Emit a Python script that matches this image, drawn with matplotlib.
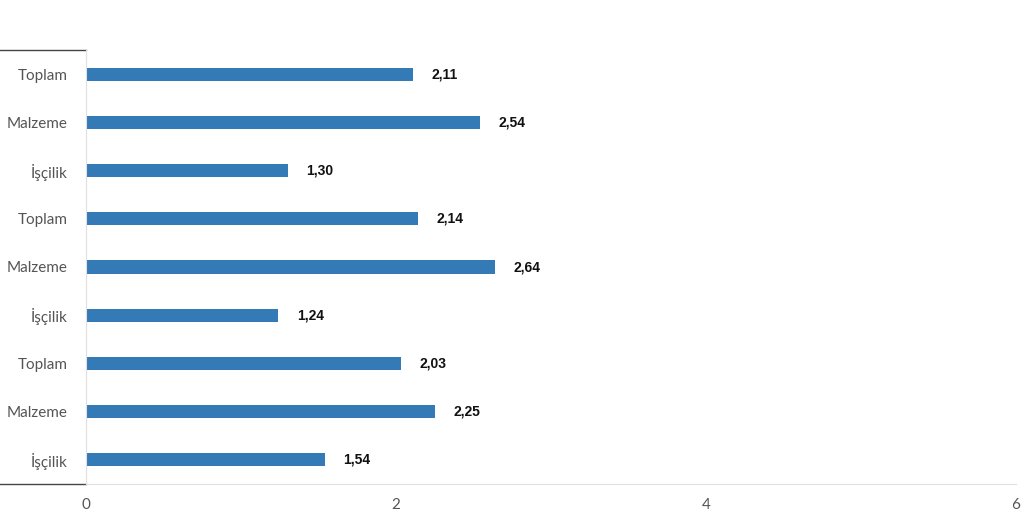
import matplotlib.pyplot as plt

# kategoriler (yukaridan asagiya)
labels = ["Toplam", "Malzeme", "İşçilik", "Toplam", "Malzeme", "İşçilik",
          "Toplam", "Malzeme", "İşçilik"]
values = [2.11, 2.54, 1.30, 2.14, 2.64, 1.24, 2.03, 2.25, 1.54]
xticks = [0, 2, 4, 6]

fig = plt.figure(figsize=(10.24, 5.2), dpi=100)
ax = fig.add_axes([86 / 1024, 1 - 484 / 520, 930 / 1024, 434 / 520])

ypos = list(range(len(values)))[::-1]
ax.barh(ypos, values, height=0.27, color="#337ab7")

for y, v in zip(ypos, values):
    ax.annotate(f"{v:.2f}".replace(".", ","), (v, y), xytext=(13.5, 0),
                textcoords="offset points", ha="left", va="center",
                fontsize=10, fontweight="bold", family="Liberation Sans",
                color="#111111")

ax.set_xlim(0, 6)
ax.set_ylim(-0.5, len(values) - 0.5)
ax.set_xticks(xticks)
ax.set_xticklabels([str(t) for t in xticks])
ax.set_yticks(ypos)
ax.set_yticklabels(labels)
ax.tick_params(axis="both", length=0, colors="#555555", labelsize=11)
ax.tick_params(axis="x", pad=10)
ax.tick_params(axis="y", pad=13)
for lab in ax.get_xticklabels() + ax.get_yticklabels():
    lab.set_family("Lato")

for s in ["top", "right"]:
    ax.spines[s].set_visible(False)
ax.spines["left"].set_color("#e0e0e0")
ax.spines["bottom"].set_color("#e0e0e0")

# grup ayirici cizgiler (sol tarafta)
x0 = -86 / 930
for yy in [0, 1]:
    ax.plot([x0, 0], [yy, yy], transform=ax.transAxes, color="#444444",
            lw=1, clip_on=False)

fig.savefig("out.png", dpi=100)
